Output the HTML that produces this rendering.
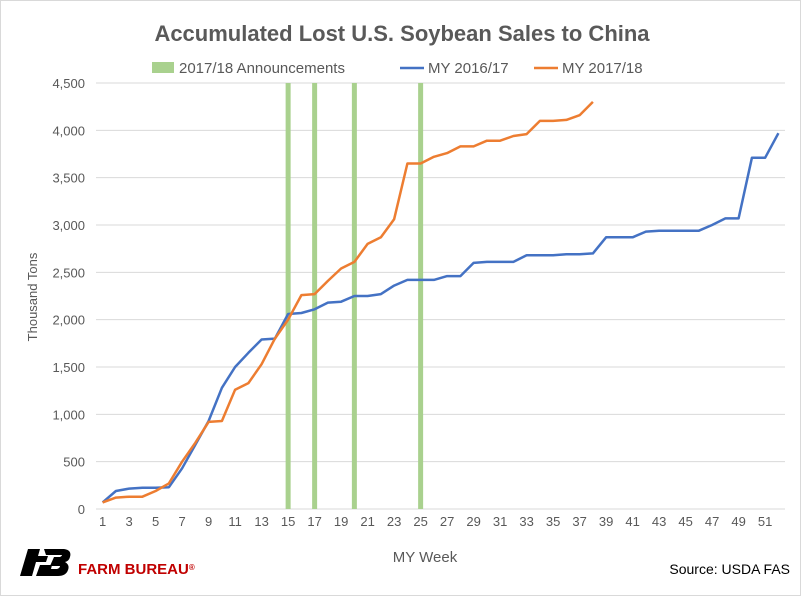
<!DOCTYPE html>
<html><head><meta charset="utf-8"><style>
body{margin:0;background:#fff;font-family:"Liberation Sans",sans-serif;}
svg text{font-family:"Liberation Sans",sans-serif;}
</style></head><body>
<svg width="810" height="596" viewBox="0 0 810 596" xmlns="http://www.w3.org/2000/svg">
<rect x="0" y="0" width="810" height="596" fill="#fff"/>
<rect x="0.5" y="0.5" width="800" height="595" fill="none" stroke="#d9d9d9"/>
<text x="402" y="41" text-anchor="middle" font-size="22" font-weight="bold" fill="#595959">Accumulated Lost U.S. Soybean Sales to China</text>
<g id="legend">
<rect x="152" y="62" width="22" height="11" fill="#a9d18e"/>
<text x="179" y="73" font-size="15" fill="#595959">2017/18 Announcements</text>
<line x1="400" y1="68" x2="424" y2="68" stroke="#4472c4" stroke-width="2.5"/>
<text x="428" y="73" font-size="15" fill="#595959">MY 2016/17</text>
<line x1="534" y1="68" x2="558" y2="68" stroke="#ed7d31" stroke-width="2.5"/>
<text x="562" y="73" font-size="15" fill="#595959">MY 2017/18</text>
</g>
<g id="grid"></g><g id="ylabels"></g><g id="xlabels"></g><g id="marks"></g>
<text transform="translate(37,297) rotate(-90)" text-anchor="middle" font-size="13" fill="#595959">Thousand Tons</text>
<text x="425" y="562" text-anchor="middle" font-size="15" fill="#595959">MY Week</text>
<text x="790" y="574" text-anchor="end" font-size="14" fill="#000">Source: USDA FAS</text>
<g>
<path d="M28 549 L40 549 L38 556 L48 556 L46 562 L36 562 L32 576 L20 576 Z" fill="#000"/>
<path d="M44 549 L64 549 Q72 550 70 557 Q69 561 65 562 Q70 565 68 570 Q66 576 58 576 L36 576 L40 565 L52 565 L51 569 L57 569 Q60 568 60 566 L50 566 L54 557 L60 557 Q62 556 62 555 L46 555 Z" fill="#000"/>
<text x="78" y="574" font-family="Liberation Serif,serif" font-size="15" fill="#c00000" font-weight="bold">FARM BUREAU<tspan font-size="8" baseline-shift="super">®</tspan></text>
</g>
</svg>
<script>
const weeks=[];for(let i=1;i<=52;i++)weeks.push(i);
const my2016=[70,190,215,225,225,230,430,680,930,1280,1500,1650,1790,1800,2060,2070,2110,2180,2190,2250,2250,2270,2360,2420,2420,2420,2460,2460,2600,2610,2610,2610,2680,2680,2680,2690,2690,2700,2870,2870,2870,2930,2940,2940,2940,2940,3000,3070,3070,3710,3710,3970];
const my2017=[70,120,130,130,190,270,500,700,920,930,1260,1330,1530,1800,2000,2260,2270,2410,2540,2610,2800,2870,3060,3650,3650,3720,3760,3830,3830,3890,3890,3940,3960,4100,4100,4110,4160,4300];
const announcements=[15,17,20,25];
const yTicks=[0,500,1000,1500,2000,2500,3000,3500,4000,4500];
const NS="http://www.w3.org/2000/svg";
const L=96,R=785,T=83,B=509,YMAX=4500;
const bw=(R-L)/52;
function xs(w){return L+(w-0.5)*bw;}
function ys(v){return B-(v/YMAX)*(B-T);}
function mk(tag,attrs,parent){const e=document.createElementNS(NS,tag);for(const k in attrs)e.setAttribute(k,attrs[k]);document.getElementById(parent).appendChild(e);return e;}
yTicks.forEach(v=>{
 const g=mk('line',{x1:L,x2:R,y1:ys(v),y2:ys(v),stroke:'#d9d9d9','stroke-width':1},'grid');
 
 
 const t=mk('text',{x:85,y:ys(v)+5,'text-anchor':'end','font-size':13,fill:'#595959'},'ylabels');
 t.textContent=v.toLocaleString('en-US');
 
 
});
weeks.forEach(w=>{if(w%2===1){
 const t=mk('text',{x:xs(w),y:526,'text-anchor':'middle','font-size':13,fill:'#595959'},'xlabels');
 t.textContent=w;
 
 
}});
announcements.forEach(w=>{
 const r=mk('rect',{x:xs(w)-2.5,y:T,width:5,height:B-T,fill:'#a9d18e'},'marks');
 
 
});
function line(data,color,name){
 const pts=data.map((v,i)=>xs(weeks[i]).toFixed(1)+','+ys(v).toFixed(1)).join(' ');
 const p=mk('polyline',{points:pts,fill:'none',stroke:color,'stroke-width':2.5,'stroke-linejoin':'round'},'marks');
 
 
}
line(my2016,'#4472c4','line-my-2016-17');
line(my2017,'#ed7d31','line-my-2017-18');
</script>
</body></html>
